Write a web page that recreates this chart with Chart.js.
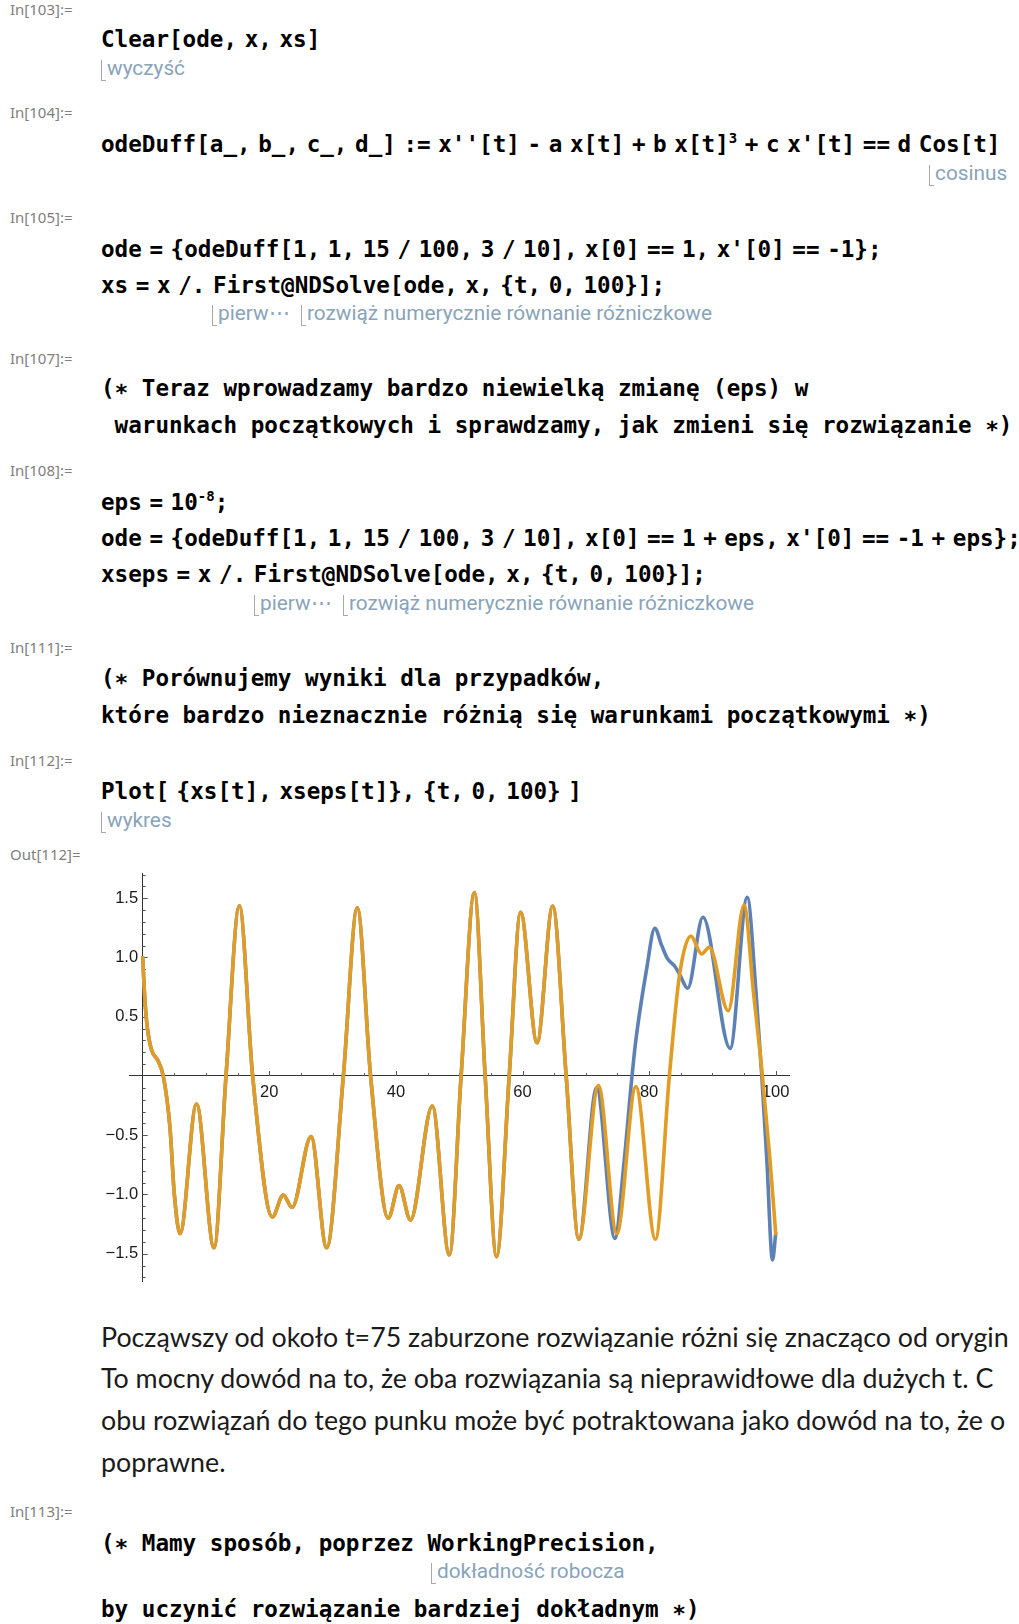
<!DOCTYPE html>
<html lang="pl">
<head>
<meta charset="utf-8">
<title>Równanie Duffinga – wrażliwość na warunki początkowe</title>
<script src="https://cdn.jsdelivr.net/npm/chart.js@4.4.1/dist/chart.umd.min.js"></script>
<style>
  html, body { margin: 0; padding: 0; background: #fff; }
  body { position: relative; width: 1019px; height: 1624px; overflow: hidden; }
  .ln { position: absolute; white-space: pre; height: 30px; line-height: 30px; }
  .cell { left: 10px; font: 15px "Noto Sans", sans-serif; color: #808080; }
  .in { left: 101px; font: bold 22.6px "DejaVu Sans Mono", monospace; color: #000; word-spacing: -6px; }
  .cm { left: 101px; font: bold 22.6px "DejaVu Sans Mono", monospace; color: #000; }
  .in sup { font-size: 14px; vertical-align: 9px; line-height: 0; }
  .hint { font: 20.8px Roboto, sans-serif; color: #89a3b9; }
  .hint::before { content: ""; display: inline-block; width: 4px; height: 20px; border-left: 1px solid #a9a9a9; border-bottom: 1px solid #a9a9a9; margin-right: 1px; vertical-align: -6px; }
  .txt { left: 101px; font: 26.8px Lato, sans-serif; color: #1b1b1b; }
  #plot { position: absolute; left: 80px; top: 850px; }
</style>
</head>
<body>

<div class="ln cell" style="top:-1px">In[103]:=</div>
<div class="ln in" style="top:26px">Clear[ode, x, xs]</div>
<div class="ln hint" style="top:56px;left:101px">wyczyść</div>

<div class="ln cell" style="top:102px">In[104]:=</div>
<div class="ln in" style="top:131px">odeDuff[a_, b_, c_, d_] := x''[t] - a x[t] + b x[t]<sup>3</sup> + c x'[t] == d Cos[t]</div>
<div class="ln hint" style="top:161px;left:929px">cosinus</div>

<div class="ln cell" style="top:207px">In[105]:=</div>
<div class="ln in" style="top:236px">ode = {odeDuff[1, 1, 15 / 100, 3 / 10], x[0] == 1, x'[0] == -1};</div>
<div class="ln in" style="top:272px">xs = x /. First@NDSolve[ode, x, {t, 0, 100}];</div>
<div class="ln hint" style="top:301px;left:212px">pierw⋯</div>
<div class="ln hint" style="top:301px;left:301px">rozwiąż numerycznie równanie różniczkowe</div>

<div class="ln cell" style="top:348px">In[107]:=</div>
<div class="ln cm" style="top:375px">(∗ Teraz wprowadzamy bardzo niewielką zmianę (eps) w</div>
<div class="ln cm" style="top:412px"> warunkach początkowych i sprawdzamy, jak zmieni się rozwiązanie ∗)</div>

<div class="ln cell" style="top:460px">In[108]:=</div>
<div class="ln in" style="top:489px">eps = 10<sup>-8</sup>;</div>
<div class="ln in" style="top:525px">ode = {odeDuff[1, 1, 15 / 100, 3 / 10], x[0] == 1 + eps, x'[0] == -1 + eps};</div>
<div class="ln in" style="top:561px">xseps = x /. First@NDSolve[ode, x, {t, 0, 100}];</div>
<div class="ln hint" style="top:591px;left:254px">pierw⋯</div>
<div class="ln hint" style="top:591px;left:343px">rozwiąż numerycznie równanie różniczkowe</div>

<div class="ln cell" style="top:637px">In[111]:=</div>
<div class="ln cm" style="top:665px">(∗ Porównujemy wyniki dla przypadków,</div>
<div class="ln cm" style="top:702px">które bardzo nieznacznie różnią się warunkami początkowymi ∗)</div>

<div class="ln cell" style="top:750px">In[112]:=</div>
<div class="ln in" style="top:778px">Plot[ {xs[t], xseps[t]}, {t, 0, 100} ]</div>
<div class="ln hint" style="top:808px;left:101px">wykres</div>

<div class="ln cell" style="top:844px">Out[112]=</div>

<canvas id="plot" width="730" height="445"></canvas>

<div class="ln txt" style="top:1321px">Począwszy od około t=75 zaburzone rozwiązanie różni się znacząco od orygin</div>
<div class="ln txt" style="top:1362px">To mocny dowód na to, że oba rozwiązania są nieprawidłowe dla dużych t. C</div>
<div class="ln txt" style="top:1404px">obu rozwiązań do tego punku może być potraktowana jako dowód na to, że o</div>
<div class="ln txt" style="top:1446px">poprawne.</div>

<div class="ln cell" style="top:1501px">In[113]:=</div>
<div class="ln cm" style="top:1530px">(∗ Mamy sposób, poprzez WorkingPrecision,</div>
<div class="ln hint" style="top:1559px;left:431px">dokładność robocza</div>
<div class="ln cm" style="top:1596px">by uczynić rozwiązanie bardziej dokładnym ∗)</div>

<script>
// x(t) of both solutions, same curve up to t ~ 70
const tShared = [0, 0.35, 0.75, 1.4, 2.4, 3.25, 4.3, 5.0, 5.9, 8.5, 11.27, 13.16, 15.27, 17.37,
  20.48, 22.2, 23.6, 26.6, 29.06, 31.7, 33.9, 36.0, 38.8, 40.5, 42.3, 45.75, 48.44, 50.3,
  52.4, 54.1, 55.9, 57.9, 59.7, 62.3, 64.77, 66.9, 68.9];
const xShared = [1.0, 0.64, 0.40, 0.22, 0.13, 0.0, -0.43, -1.0, -1.33, -0.236, -1.45, 0.0, 1.437, 0.0,
  -1.19, -1.004, -1.11, -0.512, -1.45, 0.0, 1.42, 0.0, -1.20, -0.925, -1.215, -0.253, -1.51, 0.0,
  1.547, 0.0, -1.525, 0.0, 1.381, 0.281, 1.435, 0.0, -1.378];

// xs after the split
const tXsEnd = [71.7, 74.6, 76.0, 77.3, 77.9, 79.6, 80.9, 82.0, 82.9, 84.0, 84.8, 86.1, 88.5,
  92.8, 95.5, 96.9, 97.8, 98.6, 99.5, 100];
const xsEnd = [-0.10, -1.37, -0.75, 0.0, 0.3, 0.9, 1.246, 1.10, 0.99, 0.93, 0.86, 0.74, 1.339,
  0.233, 1.508, 0.70, 0.0, -0.71, -1.553, -1.33];

// xseps after the split
const tXsepsEnd = [72.0, 74.9, 77.9, 81.0, 83.2, 84.8, 86.6, 88.3, 89.5, 92.5, 95.0, 96.5, 97.9, 99.1, 100];
const xsepsEnd = [-0.08, -1.33, -0.09, -1.378, 0.0, 0.85, 1.18, 1.03, 1.086, 0.551, 1.443, 0.70, 0.0, -0.71, -1.33];

const xTicks = [20, 40, 60, 80, 100];
const yTicks = [-1.5, -1.0, -0.5, 0.5, 1.0, 1.5];

const toPoints = (ts, vs) => ts.map((t, i) => ({x: t, y: vs[i]}));

// small tick marks on both axes, drawn under the curves
const axisTicks = {
  id: 'axisTicks',
  beforeDatasetsDraw(chart) {
    const {ctx, scales: {x, y}} = chart;
    const x0 = x.getPixelForValue(0);
    const y0 = y.getPixelForValue(0);
    ctx.save();
    ctx.strokeStyle = '#555';
    ctx.lineWidth = 1;
    ctx.beginPath();
    for (let v = 5; v <= 100; v += 5) {
      const px = Math.round(x.getPixelForValue(v)) + 0.5;
      ctx.moveTo(px, y0);
      ctx.lineTo(px, y0 - (v % 20 === 0 ? 5 : 3));
    }
    for (let k = -17; k <= 17; k++) {
      if (k === 0) continue;
      const py = Math.round(y.getPixelForValue(k / 10)) + 0.5;
      ctx.moveTo(x0, py);
      ctx.lineTo(x0 + (k % 5 === 0 ? 5 : 3), py);
    }
    ctx.stroke();
    ctx.restore();
  }
};

const tickFont = {family: '"Liberation Sans", Arial, sans-serif', size: 16.5};

new Chart(document.getElementById('plot'), {
  type: 'line',
  data: {
    datasets: [
      {
        label: 'xs',
        data: toPoints(tShared.concat(tXsEnd), xShared.concat(xsEnd)),
        borderColor: '#5e81b5',
        order: 1
      },
      {
        label: 'xseps',
        data: toPoints(tShared.concat(tXsepsEnd), xShared.concat(xsepsEnd)),
        borderColor: '#e19c24',
        order: 0
      }
    ]
  },
  options: {
    responsive: false,
    animation: false,
    events: [],
    layout: {padding: {left: 49, right: 21, top: 23, bottom: 14}},
    elements: {
      point: {radius: 0},
      line: {borderWidth: 3.6, cubicInterpolationMode: 'monotone', borderCapStyle: 'round', borderJoinStyle: 'round'}
    },
    plugins: {legend: {display: false}, tooltip: {enabled: false}},
    scales: {
      x: {
        type: 'linear',
        position: {y: 0},
        min: -2.164,
        max: 102.1,
        bounds: 'data',
        grid: {display: false, drawTicks: false},
        border: {color: '#333', width: 1},
        afterBuildTicks: s => { s.ticks = xTicks.map(v => ({value: v})); },
        ticks: {font: tickFont, color: '#1a1a1a', padding: 6.5, maxRotation: 0, autoSkip: false,
          callback: v => String(v)}
      },
      y: {
        type: 'linear',
        position: {x: 0},
        min: -1.73,
        max: 1.713,
        bounds: 'data',
        grid: {display: false, drawTicks: false},
        border: {color: '#333', width: 1},
        afterBuildTicks: s => { s.ticks = yTicks.map(v => ({value: v})); },
        ticks: {font: tickFont, color: '#1a1a1a', autoSkip: false,
          callback: v => (v < 0 ? '\u2212' : '') + Math.abs(v).toFixed(1) + ' '}
      }
    }
  },
  plugins: [axisTicks]
});
</script>
</body>
</html>
